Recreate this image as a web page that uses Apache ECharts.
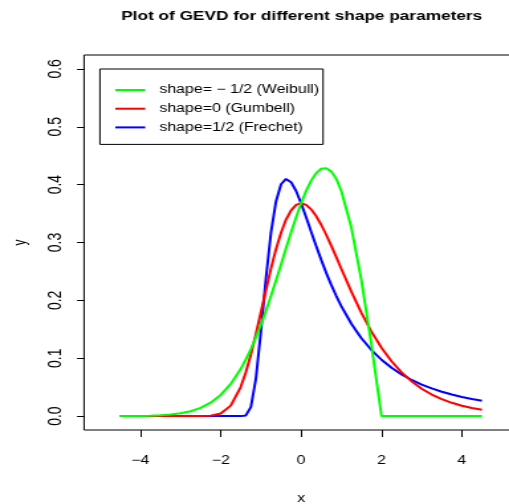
<!DOCTYPE html>
<html>
<head>
<meta charset="utf-8">
<script src="https://cdn.jsdelivr.net/npm/echarts@6/dist/echarts.min.js"></script>
<style>
  html, body { margin: 0; padding: 0; background: #fff; overflow: hidden; }
  /* the reference is stretched sideways: draw at 384 wide and widen to 509 */
  #chart { width: 384px; height: 504px; transform: scaleX(1.32552); transform-origin: 0 0; }
</style>
</head>
<body>
<div id="chart"></div>
<script>
const xs = [-4.5, -4.25, -4, -3.75, -3.5, -3.25, -3, -2.75, -2.5, -2.25, -2, -1.75, -1.5,
  -1.375, -1.25, -1.125, -1, -0.875, -0.75, -0.625, -0.5, -0.375, -0.25, -0.125, 0,
  0.125, 0.25, 0.375, 0.5, 0.625, 0.75, 0.875, 1,
  1.25, 1.5, 1.75, 2, 2.25, 2.5, 2.75, 3, 3.25, 3.5, 3.75, 4, 4.25, 4.5];

// shape = -1/2 (Weibull)
const weibull = [0.0001, 0.0002, 0.0004, 0.0007, 0.0014, 0.0027, 0.0048, 0.0084, 0.0142, 0.0232, 0.0366, 0.0557, 0.0818,
  0.0979, 0.1159, 0.1360, 0.1581, 0.1820, 0.2076, 0.2344, 0.2620, 0.2899, 0.3174, 0.3436, 0.3679,
  0.3893, 0.4069, 0.4199, 0.4274, 0.4285, 0.4229, 0.4099, 0.3894,
  0.3258, 0.2348, 0.1231, 0, 0, 0, 0, 0, 0, 0, 0, 0, 0, 0];

// shape = 0 (Gumbell)
const gumbel = [0, 0, 0, 0, 0, 0, 0, 0, 0.0001, 0.0007, 0.0046, 0.0182, 0.0507,
  0.0758, 0.1064, 0.1416, 0.1794, 0.2178, 0.2549, 0.2885, 0.3170, 0.3396, 0.3556, 0.3649, 0.3679,
  0.3651, 0.3574, 0.3457, 0.3307, 0.3134, 0.2945, 0.2748, 0.2546,
  0.2151, 0.1785, 0.1461, 0.1182, 0.0949, 0.0756, 0.0600, 0.0474, 0.0373, 0.0293, 0.0230, 0.0180, 0.0141, 0.0110];

// shape = 1/2 (Frechet)
const frechet = [0, 0, 0, 0, 0, 0, 0, 0, 0, 0, 0, 0, 0,
  0.0012, 0.0155, 0.0642, 0.1465, 0.2382, 0.3166, 0.3710, 0.4006, 0.4099, 0.4043, 0.3890, 0.3679,
  0.3438, 0.3187, 0.2939, 0.2700, 0.2475, 0.2267, 0.2075, 0.1900,
  0.1596, 0.1346, 0.1141, 0.0974, 0.0835, 0.0721, 0.0625, 0.0545, 0.0478, 0.0421, 0.0373, 0.0331, 0.0296, 0.0265];

const xTicks = [-4, -2, 0, 2, 4];
const yTicks = [0, 0.1, 0.2, 0.3, 0.4, 0.5, 0.6];

const names = ['shape= \u2212 1/2 (Weibull)', 'shape=0 (Gumbell)', 'shape=1/2 (Frechet)'];
const FONT = 'Liberation Sans, Arial, Helvetica, sans-serif';

function pairs(ys) {
  return xs.map((x, i) => [x, ys[i]]);
}

function lineSeries(name, ys, color) {
  return {
    name: name,
    type: 'line',
    data: pairs(ys),
    symbol: 'none',
    smooth: false,
    silent: true,
    lineStyle: { color: color, width: 2 },
    itemStyle: { color: color }
  };
}

const chart = echarts.init(document.getElementById('chart'), null, { renderer: 'canvas' });

chart.setOption({
  animation: false,
  backgroundColor: '#fff',
  title: {
    text: 'Plot of GEVD for different shape parameters',
    left: 222.6,
    top: 5,
    textAlign: 'center',
    textStyle: { fontFamily: FONT, fontSize: 13, fontWeight: 'bold', color: '#000' }
  },
  legend: {
    orient: 'vertical',
    left: 75.4,
    top: 69,
    padding: [15, 3, 11, 10.6],
    itemWidth: 22.6,
    itemHeight: 14,
    itemGap: 6.7,
    borderColor: '#000',
    borderWidth: 1,
    borderRadius: 0,
    itemStyle: { opacity: 0 },
    textStyle: { fontFamily: FONT, fontSize: 12, color: '#000', padding: [0, 0, 0, 5.6] },
    data: names
  },
  grid: {
    show: true,
    left: 63.4,
    top: 55,
    right: -6.9,
    bottom: 74,
    outerBoundsMode: 'none',
    containLabel: false,
    borderColor: '#000',
    borderWidth: 1,
    backgroundColor: 'transparent'
  },
  xAxis: {
    type: 'value',
    min: -5.4,
    max: 5.4,
    name: 'x',
    nameLocation: 'middle',
    nameGap: 63,
    nameTextStyle: { fontFamily: FONT, fontSize: 12, color: '#000' },
    axisLine: { show: false, onZero: false },
    axisTick: { show: true, length: 7, customValues: xTicks, lineStyle: { color: '#000' } },
    axisLabel: {
      customValues: xTicks,
      margin: 25,
      fontFamily: FONT,
      fontSize: 12,
      color: '#000',
      formatter: v => (v < 0 ? '\u2212' + Math.abs(v) : String(v))
    },
    splitLine: { show: false }
  },
  yAxis: {
    type: 'value',
    min: -0.024,
    max: 0.624,
    name: 'y',
    nameLocation: 'middle',
    nameGap: 41.5,
    nameTextStyle: { fontFamily: FONT, fontSize: 12, color: '#000' },
    axisLine: { show: false, onZero: false },
    axisTick: { show: true, length: 5.3, customValues: yTicks, lineStyle: { color: '#000' } },
    axisLabel: {
      customValues: yTicks,
      rotate: 90,
      margin: 14,
      fontFamily: FONT,
      fontSize: 14,
      color: '#000',
      formatter: v => v.toFixed(1)
    },
    splitLine: { show: false }
  },
  series: [
    lineSeries(names[2], frechet, '#0000ff'),
    lineSeries(names[1], gumbel, '#ff0000'),
    lineSeries(names[0], weibull, '#00ff00')
  ]
});
</script>
</body>
</html>
